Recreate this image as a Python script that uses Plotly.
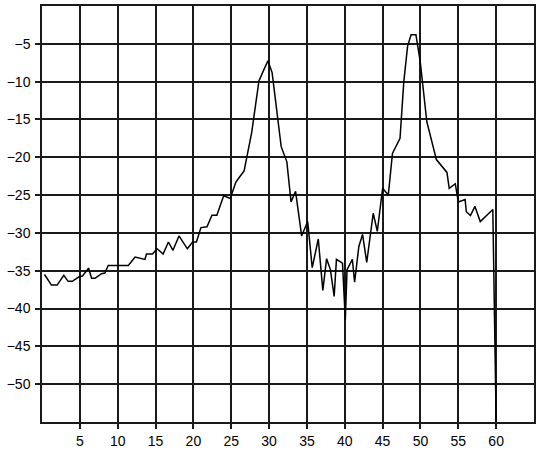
import plotly.graph_objects as go

# trace
freq = [0.33, 1.25, 2.0, 2.88, 3.45, 4.0, 4.9, 5.35, 6.15, 6.55, 7.0, 7.86, 8.3, 8.75,
        11.4, 12.3, 13.6, 13.8, 14.6, 15.2, 16.0, 16.7, 17.3, 18.1, 19.2, 19.9, 20.4,
        21.0, 21.8, 22.45, 23.1, 24.0, 24.87, 25.6, 26.1, 26.7, 27.7, 28.66, 29.3,
        29.85, 30.4, 31.6, 32.35, 32.9, 33.5, 34.3, 35.1, 35.7, 36.5, 37.1, 37.6,
        38.1, 38.6, 38.9, 39.7, 40.07, 40.3, 41.0, 41.3, 41.86, 42.35, 42.9, 43.76,
        44.3, 45.0, 45.75, 46.3, 47.3, 47.8, 48.3, 48.76, 49.4, 49.96, 50.84, 52.1,
        53.5, 53.8, 54.6, 55.0, 55.9, 56.06, 56.6, 57.2, 57.9, 59.56, 60.0]
level = [-35.5, -36.9, -36.9, -35.6, -36.4, -36.4, -35.8, -35.7, -34.65, -36.0, -36.0,
         -35.4, -35.3, -34.3, -34.3, -33.2, -33.5, -32.8, -32.8, -32.1, -32.8, -31.2,
         -32.3, -30.4, -32.1, -31.2, -31.2, -29.3, -29.2, -27.65, -27.65, -25.1, -25.45,
         -23.3, -22.6, -21.8, -16.75, -9.9, -8.45, -7.25, -8.8, -18.6, -20.6, -25.9,
         -24.5, -30.4, -28.5, -34.6, -30.8, -37.6, -33.4, -34.85, -38.4, -33.5, -34.0,
         -41.5, -34.85, -33.5, -36.5, -31.8, -30.2, -33.9, -27.4, -29.8, -24.1, -25.0,
         -19.5, -17.5, -10.0, -5.3, -3.8, -3.8, -7.3, -15.3, -20.3, -22.0, -24.1, -23.5,
         -25.9, -25.6, -27.2, -27.7, -26.5, -28.5, -26.9, -55.0]

x_ticks = [5, 10, 15, 20, 25, 30, 35, 40, 45, 50, 55, 60]
y_ticks = [-5, -10, -15, -20, -25, -30, -35, -40, -45, -50]

fig = go.Figure()
fig.add_trace(go.Scatter(
    x=freq, y=level,
    mode="lines",
    line=dict(color="black", width=1.5),
    hoverinfo="skip",
    showlegend=False,
))

axis_style = dict(
    showgrid=True,
    gridcolor="#1a1a1a",
    gridwidth=1.5,
    zeroline=False,
    showline=True,
    linecolor="#1a1a1a",
    linewidth=1.5,
    mirror=True,
    ticks="outside",
    ticklen=5,
    tickwidth=1.5,
    tickcolor="#1a1a1a",
    automargin=False,
)

fig.update_xaxes(range=[0, 65], tickmode="array", tickvals=x_ticks, **axis_style)
fig.update_yaxes(range=[-55, 0], tickmode="array", tickvals=y_ticks, ticklabelstandoff=2, **axis_style)

fig.update_layout(
    width=540,
    height=454,
    margin=dict(l=42, r=6, t=6, b=32),
    plot_bgcolor="white",
    paper_bgcolor="white",
    font=dict(family="Liberation Sans, Arial, sans-serif", size=14, color="black"),
)

# page body has a default 8px margin; drop it so the chart sits at 0,0
fig.write_html("out.html", config={"displayModeBar": False},
               post_script="document.body.style.margin='0';")
